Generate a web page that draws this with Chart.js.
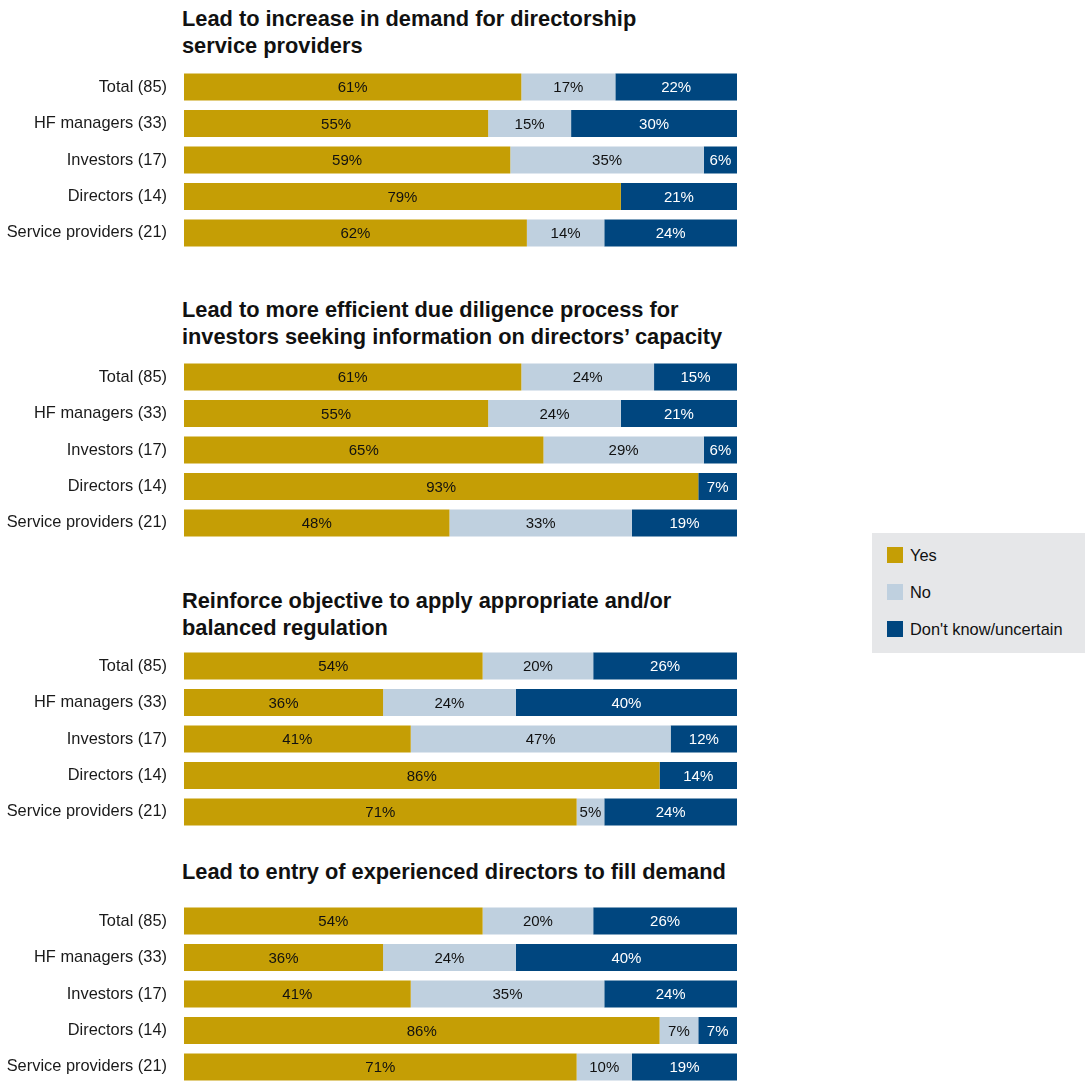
<!DOCTYPE html>
<html><head><meta charset="utf-8">
<script src="https://cdn.jsdelivr.net/npm/chart.js@4"></script>
<style>
html,body{margin:0;padding:0;background:#fff;width:1088px;height:1087px;overflow:hidden;font-family:"Liberation Sans",Arial,sans-serif;}
.title{position:absolute;left:182px;font-weight:bold;font-size:21.8px;line-height:27px;color:#111;white-space:nowrap;}
canvas{position:absolute;left:0;}
#legend{position:absolute;left:872px;top:533px;width:213px;height:120px;background:#E6E7E9;}
.li{position:absolute;left:15px;font-size:16.4px;color:#111;white-space:nowrap;}
.sw{display:inline-block;width:16px;height:16px;vertical-align:-2px;margin-right:7px;}
</style></head>
<body>
<div class="title" style="top:5px">Lead to increase in demand for directorship<br>service providers</div>
<div class="title" style="top:296px">Lead to more efficient due diligence process for<br>investors seeking information on directors’ capacity</div>
<div class="title" style="top:587px">Reinforce objective to apply appropriate and/or<br>balanced regulation</div>
<div class="title" style="top:858px">Lead to entry of experienced directors to fill demand</div>
<canvas id="c1" width="745" height="202" style="top:59px"></canvas>
<canvas id="c2" width="745" height="202" style="top:349px"></canvas>
<canvas id="c3" width="745" height="202" style="top:638px"></canvas>
<canvas id="c4" width="745" height="202" style="top:893px"></canvas>
<div id="legend"></div>
<script>
const categories = ["Total (85)","HF managers (33)","Investors (17)","Directors (14)","Service providers (21)"];
const seriesNames = ["Yes","No","Don't know/uncertain"];
const seriesColors = ["#C59E05","#BFD0DF","#00467F"];
const labelColors = ["#111111","#111111","#FFFFFF"];

const p1Yes = [61,55,59,79,62];
const p1No  = [17,15,35,0,14];
const p1Dk  = [22,30,6,21,24];

const p2Yes = [61,55,65,93,48];
const p2No  = [24,24,29,0,33];
const p2Dk  = [15,21,6,7,19];

const p3Yes = [54,36,41,86,71];
const p3No  = [20,24,47,0,5];
const p3Dk  = [26,40,12,14,24];

const p4Yes = [54,36,41,86,71];
const p4No  = [20,24,35,7,10];
const p4Dk  = [26,40,24,7,19];

const labelPlugin = {
  id:'segLabels',
  afterDatasetsDraw(chart){
    const ctx = chart.ctx;
    ctx.save();
    ctx.font = '15px "Liberation Sans", Arial, sans-serif';
    ctx.textAlign='center'; ctx.textBaseline='middle';
    chart.data.datasets.forEach((ds,di)=>{
      const meta = chart.getDatasetMeta(di);
      meta.data.forEach((el,i)=>{
        const v = ds.data[i];
        if(!v) return;
        const p = el.getProps(['x','y','base'],true);
        ctx.fillStyle = labelColors[di];
        ctx.fillText(v+'%',(p.x+p.base)/2,p.y+1);
      });
    });
    ctx.restore();
  }
};

function makeChart(id, yes, no, dk){
  const vals=[yes,no,dk];
  new Chart(document.getElementById(id),{
    type:'bar',
    data:{labels:categories,datasets:vals.map((d,i)=>({label:seriesNames[i],data:d,backgroundColor:seriesColors[i],borderWidth:0,barPercentage:0.74,categoryPercentage:1}))},
    options:{
      indexAxis:'y',responsive:false,animation:false,devicePixelRatio:1,
      layout:{padding:{top:0,bottom:0,right:8,left:0}},
      plugins:{legend:{display:false},tooltip:{enabled:false}},
      scales:{
        x:{stacked:true,min:0,max:100,display:false},
        y:{stacked:true,grid:{display:false,drawTicks:true,tickLength:17},border:{display:false},
           ticks:{color:'#1a1a1a',font:{size:16.4,family:'"Liberation Sans", Arial, sans-serif'},padding:0},
           afterFit(s){s.width=184;}}
      }
    },
    plugins:[labelPlugin]
  });
}
makeChart('c1',p1Yes,p1No,p1Dk);
makeChart('c2',p2Yes,p2No,p2Dk);
makeChart('c3',p3Yes,p3No,p3Dk);
makeChart('c4',p4Yes,p4No,p4Dk);

const lg=document.getElementById('legend');
seriesNames.forEach((n,i)=>{
  const d=document.createElement('div');d.className='li';d.style.top=(13+i*37)+'px';
  d.innerHTML='<span class="sw" style="background:'+seriesColors[i]+'"></span>';
  d.appendChild(document.createTextNode(n));
  lg.appendChild(d);
});
</script>
</body></html>
